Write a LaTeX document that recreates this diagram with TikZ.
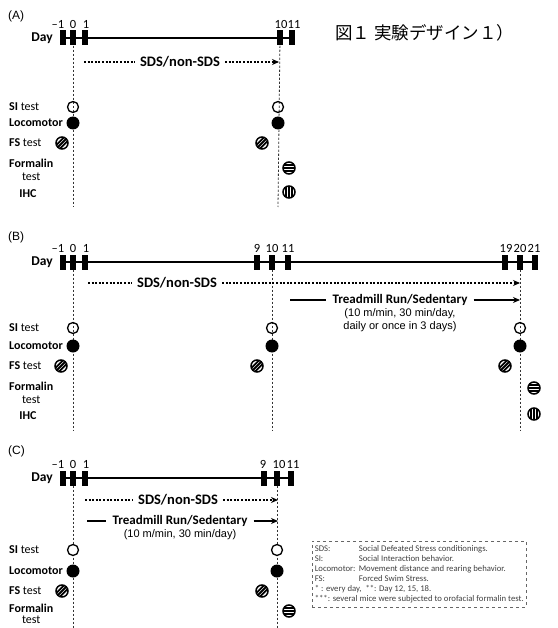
\documentclass[tikz,border=0pt]{standalone}
\usepackage{fontspec}
\setmainfont{Carlito}
\newfontfamily\arialfont{Liberation Sans}
\newfontfamily\jpfont{Noto Sans CJK JP}
\usetikzlibrary{arrows.meta,positioning}

\begin{document}
\begin{tikzpicture}[x=1pt, y=-1pt]
    % Styles
    \tikzstyle{daybar} = [rectangle, fill=black, inner sep=0pt, minimum width=6pt, minimum height=15pt]
    \tikzstyle{daynum} = [inner sep=0pt, font=\fontsize{12.5}{12.5}\selectfont]
    \tikzstyle{daylab} = [inner sep=0pt, font=\fontsize{13.5}{13.5}\selectfont\bfseries]
    \tikzstyle{panel} = [inner sep=0pt, anchor=west, font=\arialfont\fontsize{12}{12}\selectfont]
    \tikzstyle{rowlab} = [inner sep=0pt, align=center, font=\fontsize{12}{13.5}\selectfont]
    \tikzstyle{tline} = [line width=2pt]
    \tikzstyle{vdash} = [line width=0.8pt, dash pattern=on 2.2pt off 1.8pt, black!80]
    \tikzstyle{sdstxt} = [inner xsep=5pt, inner ysep=0pt, font=\fontsize{14.5}{14.5}\selectfont\bfseries]
    \tikzstyle{sdsline} = [line width=1.8pt, dash pattern=on 2pt off 1.6pt]
    \tikzstyle{sdsarrow} = [sdsline, -{Stealth[length=7pt,width=6pt]}]
    \tikzstyle{trtxt} = [inner xsep=6pt, inner ysep=0pt, font=\fontsize{13}{13}\selectfont\bfseries]
    \tikzstyle{trline} = [line width=2pt]
    \tikzstyle{trarrow} = [trline, -{Stealth[length=7pt,width=6pt]}]
    \tikzstyle{subtxt} = [inner sep=0pt, align=center, font=\arialfont\fontsize{11}{13}\selectfont]
    \tikzstyle{sicirc} = [circle, draw, line width=1.3pt, minimum size=11pt, inner sep=0pt]
    \tikzstyle{loccirc} = [circle, fill=black, minimum size=13pt, inner sep=0pt]
    \tikzstyle{fscirc} = [circle, draw, fill=white, line width=1.5pt, minimum size=12pt, inner sep=0pt,
        path picture={\foreach \d in {-3.6,0,3.6}
            \draw[line width=1.8pt, shift={(path picture bounding box.center)}] (\d-8,8) -- (\d+8,-8);}]
    \tikzstyle{fmcirc} = [circle, draw, fill=white, line width=1.5pt, minimum size=12pt, inner sep=0pt,
        path picture={\foreach \d in {-3,0,3}
            \draw[line width=1.4pt, shift={(path picture bounding box.center)}] (-8,\d) -- (8,\d);}]
    \tikzstyle{ihccirc} = [circle, draw, fill=white, line width=1.5pt, minimum size=12pt, inner sep=0pt,
        path picture={\foreach \d in {-3,0,3}
            \draw[line width=1.4pt, shift={(path picture bounding box.center)}] (\d,-8) -- (\d,8);}]
    \tikzstyle{legend} = [draw=black!60, dashed, line width=0.6pt, inner xsep=2.5pt, inner ysep=3pt,
        text=black!75, font=\fontsize{8.7}{10}\selectfont]

    \useasboundingbox (0,0) rectangle (557,628);

    % Title
    \node [anchor=west, inner sep=0pt, font=\jpfont\fontsize{17.5}{17.5}\selectfont] (title) at (335,33) {図１ 実験デザイン１）};

    % ---------- (A) ----------
    \node [panel] (pa) at (8,16) {(A)};
    \node [daylab, anchor=east] (aday) at (53,38) {Day};
    \foreach \n/\x in {m1/63, 0/73, 1/85, 10/280, 11/292}
        \node [daybar] (a\n) at (\x,38) {};
    \foreach \t/\x in {--1/58, 0/73, 1/86, 10/281, 11/294}
        \node [daynum] at (\x,24) {\t};
    \draw [tline] (am1) -- (a11);
    \coordinate (a0end) at (73,207);
    \coordinate (a10end) at (278,207);
    \draw [vdash] (a0) -- (a0end);
    \draw [vdash] (a10) -- (a10end);

    \node [sdstxt] (asds) at (180,62) {SDS/non-SDS};
    \coordinate (asdsL) at (84,62);
    \coordinate (asdsR) at (279,62);
    \draw [sdsline] (asdsL) -- (asds.west);
    \draw [sdsarrow] (asds.east) -- (asdsR);

    \node [rowlab, anchor=west] (asil) at (9,107) {\textbf{SI} test};
    \node [rowlab, anchor=west] (alocl) at (9,123) {\textbf{Locomotor}};
    \node [rowlab, anchor=west] (afsl) at (9,143) {\textbf{FS} test};
    \node [rowlab, anchor=west] (afml) at (9,170) {\textbf{Formalin}\\test};
    \node [rowlab] (aihcl) at (28,194) {\textbf{IHC}};

    \node [sicirc] (asi0) at (73,107) {};
    \node [loccirc] (aloc0) at (73,123) {};
    \node [fscirc] (afs0) at (62,143) {};
    \node [sicirc] (asi10) at (278,107) {};
    \node [loccirc] (aloc10) at (278,123) {};
    \node [fscirc] (afs10) at (262,143) {};
    \node [fmcirc] (afm10) at (289,168) {};
    \node [ihccirc] (aihc10) at (289,192) {};

    % ---------- (B) ----------
    \node [panel] (pb) at (8,237) {(B)};
    \node [daylab, anchor=east] (bday) at (53,262) {Day};
    \foreach \n/\x in {m1/63, 0/73, 1/85, 9/257, 10/272, 11/288, 19/505, 20/520, 21/535}
        \node [daybar] (b\n) at (\x,262) {};
    \foreach \t/\x in {--1/58, 0/73, 1/86, 9/257, 10/272, 11/288, 19/506, 20/520, 21/534}
        \node [daynum] at (\x,248) {\t};
    \draw [tline] (bm1) -- (b21);
    \coordinate (b0end) at (73,430);
    \coordinate (b10end) at (272,430);
    \coordinate (b20end) at (520,430);
    \draw [vdash] (b0) -- (b0end);
    \draw [vdash] (b10) -- (b10end);
    \draw [vdash] (b20) -- (b20end);

    \node [sdstxt] (bsds) at (177,283) {SDS/non-SDS};
    \coordinate (bsdsL) at (88,283);
    \coordinate (bsdsR) at (520,283);
    \draw [sdsline] (bsdsL) -- (bsds.west);
    \draw [sdsarrow] (bsds.east) -- (bsdsR);

    \node [trtxt] (btr) at (400,300) {Treadmill Run/Sedentary};
    \coordinate (btrL) at (290,300);
    \coordinate (btrR) at (520,300);
    \draw [trline] (btrL) -- (btr.west);
    \draw [trarrow] (btr.east) -- (btrR);
    \node [subtxt, below=3pt of btr] (btrsub) {(10 m/min, 30 min/day,\\daily or once in 3 days)};

    \node [rowlab, anchor=west] (bsil) at (9,328) {\textbf{SI} test};
    \node [rowlab, anchor=west] (blocl) at (9,346) {\textbf{Locomotor}};
    \node [rowlab, anchor=west] (bfsl) at (9,366) {\textbf{FS} test};
    \node [rowlab, anchor=west] (bfml) at (9,393) {\textbf{Formalin}\\test};
    \node [rowlab] (bihcl) at (28,416) {\textbf{IHC}};

    \node [sicirc] (bsi0) at (73,328) {};
    \node [loccirc] (bloc0) at (73,346) {};
    \node [fscirc] (bfs0) at (61,366) {};
    \node [sicirc] (bsi10) at (272,328) {};
    \node [loccirc] (bloc10) at (272,346) {};
    \node [fscirc] (bfs10) at (257,366) {};
    \node [sicirc] (bsi20) at (520,328) {};
    \node [loccirc] (bloc20) at (520,346) {};
    \node [fscirc] (bfs20) at (505,366) {};
    \node [fmcirc] (bfm20) at (534,388) {};
    \node [ihccirc] (bihc20) at (534,414) {};

    % ---------- (C) ----------
    \node [panel] (pc) at (8,451) {(C)};
    \node [daylab, anchor=east] (cday) at (53,478) {Day};
    \foreach \n/\x in {m1/63, 0/73, 1/85, 9/264, 10/277, 11/291}
        \node [daybar] (c\n) at (\x,478) {};
    \foreach \t/\x in {--1/58, 0/73, 1/86, 9/263, 10/279, 11/293}
        \node [daynum] at (\x,464) {\t};
    \draw [tline] (cm1) -- (c11);
    \coordinate (c0end) at (73,628);
    \coordinate (c10end) at (277,628);
    \draw [vdash] (c0) -- (c0end);
    \draw [vdash] (c10) -- (c10end);

    \node [sdstxt] (csds) at (178,500) {SDS/non-SDS};
    \coordinate (csdsL) at (85,500);
    \coordinate (csdsR) at (278,500);
    \draw [sdsline] (csdsL) -- (csds.west);
    \draw [sdsarrow] (csds.east) -- (csdsR);

    \node [trtxt] (ctr) at (180,521) {Treadmill Run/Sedentary};
    \coordinate (ctrL) at (87,521);
    \coordinate (ctrR) at (278,521);
    \draw [trline] (ctrL) -- (ctr.west);
    \draw [trarrow] (ctr.east) -- (ctrR);
    \node [subtxt, below=3pt of ctr] (ctrsub) {(10 m/min, 30 min/day)};

    \node [rowlab, anchor=west] (csil) at (9,550) {\textbf{SI} test};
    \node [rowlab, anchor=west] (clocl) at (9,571) {\textbf{Locomotor}};
    \node [rowlab, anchor=west] (cfsl) at (9,591) {\textbf{FS} test};
    \node [rowlab, anchor=west, font=\fontsize{12}{11.5}\selectfont] (cfml) at (9,614) {\textbf{Formalin}\\test};

    \node [sicirc, fill=white] (csi0) at (73,550) {};
    \node [loccirc] (cloc0) at (73,571) {};
    \node [fscirc] (cfs0) at (62,591) {};
    \node [sicirc, fill=white] (csi10) at (277,550) {};
    \node [loccirc] (cloc10) at (277,571) {};
    \node [fscirc] (cfs10) at (262,591) {};
    \node [fmcirc] (cfm10) at (289,611) {};

    % Legend
    \node [legend, anchor=north west] (leg) at (312,541) {%
        \setlength{\tabcolsep}{0pt}%
        \begin{tabular}{@{}p{44pt}l@{}}
            SDS: & Social Defeated Stress conditionings.\\
            SI: & Social Interaction behavior.\\
            Locomotor: & Movement distance and rearing behavior.\\
            FS: & Forced Swim Stress.\\
            \multicolumn{2}{@{}l@{}}{* : every day,\ \ **: Day 12, 15, 18.}\\
            \multicolumn{2}{@{}l@{}}{***: several mice were subjected to orofacial formalin test.}
        \end{tabular}};
\end{tikzpicture}
\end{document}
